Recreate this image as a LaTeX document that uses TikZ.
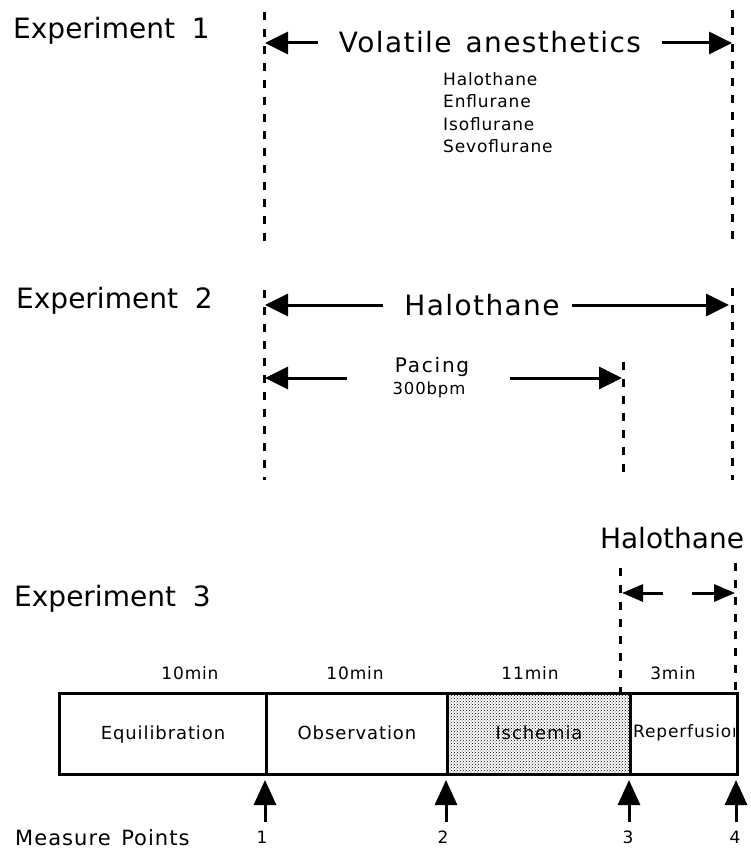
\documentclass[tikz,border=0pt]{standalone}
\usepackage{fontspec}
\setmainfont{DejaVu Sans}
\newfontfamily\lsA[LetterSpace=5]{DejaVu Sans}
\newfontfamily\lsB[LetterSpace=9]{DejaVu Sans}
\usetikzlibrary{arrows.meta,patterns}
\begin{document}
\begin{tikzpicture}[x=1pt,y=-1pt,
  dashv/.style={line width=3pt, dash pattern=on 8pt off 9pt},
  bigarr/.style={line width=3pt, -{Triangle[length=23pt,width=22pt]}},
  smallarr/.style={line width=3pt, -{Triangle[length=21pt,width=17pt]}},
  uparr/.style={line width=3pt, -{Triangle[length=25pt,width=22pt]}},
  lbl/.style={inner sep=0pt},
  big/.style={lbl, font=\fontsize{28}{32}\selectfont},
  sml/.style={lbl, font=\lsA\fontsize{17}{20}\selectfont},
  seg/.style={draw, line width=3pt, rectangle, inner sep=0pt, minimum height=81pt, font=\lsA\fontsize{18}{21}\selectfont, text height=13pt, text depth=3pt},
]
\useasboundingbox (0,0) rectangle (750,850);

% ---------- Experiment 1 ----------
\node[big, anchor=base west] (e1) at (13,39) {Experiment\hspace{0.6em}1};
\coordinate (d1lt) at (264,12);  \coordinate (d1lb) at (264,241);
\coordinate (d1rt) at (732,10);  \coordinate (d1rb) at (732,241);
\draw[dashv] (d1lt) -- (d1lb);
\draw[dashv] (d1rt) -- (d1rb);
\node[big, font=\lsA\fontsize{28}{32}\selectfont, anchor=base] (va) at (490,53) {Volatile\hspace{0.5em}anesthetics};
\coordinate (va1) at (318,43); \coordinate (va1t) at (265,43);
\coordinate (va2) at (662,43); \coordinate (va2t) at (732,43);
\draw[bigarr] (va1) -- (va1t);
\draw[bigarr] (va2) -- (va2t);
\node[sml, anchor=base west] (dr1) at (443,86) {Halothane};
\node[sml, anchor=base west] (dr2) at (443,108) {Enflurane};
\node[sml, anchor=base west] (dr3) at (443,131) {Isoflurane};
\node[sml, anchor=base west] (dr4) at (443,153) {Sevoflurane};

% ---------- Experiment 2 ----------
\node[big, anchor=base west] (e2) at (16,308) {Experiment\hspace{0.6em}2};
\coordinate (d2lt) at (264,290);  \coordinate (d2lb) at (264,480);
\coordinate (d2rt) at (732,288);  \coordinate (d2rb) at (732,480);
\coordinate (d2mt) at (623,362);  \coordinate (d2mb) at (623,480);
\draw[dashv] (d2lt) -- (d2lb);
\draw[dashv] (d2rt) -- (d2rb);
\draw[dashv] (d2mt) -- (d2mb);
\node[big, font=\lsA\fontsize{28}{32}\selectfont, anchor=base] (h2) at (482,315) {Halothane};
\coordinate (h2a) at (383,305); \coordinate (h2at) at (265,305);
\coordinate (h2b) at (572,305); \coordinate (h2bt) at (729,305);
\draw[bigarr] (h2a) -- (h2at);
\draw[bigarr] (h2b) -- (h2bt);
\node[lbl, font=\lsB\fontsize{20}{23}\selectfont, anchor=base] (pc) at (432,372) {Pacing};
\node[lbl, font=\lsA\fontsize{16.5}{19}\selectfont, anchor=base] (bpm) at (429,394) {300bpm};
\coordinate (pa) at (347,378); \coordinate (pat) at (265,378);
\coordinate (pb) at (510,378); \coordinate (pbt) at (622,378);
\draw[bigarr] (pa) -- (pat);
\draw[bigarr] (pb) -- (pbt);

% ---------- Experiment 3 ----------
\node[big, anchor=base west] (e3) at (14,606) {Experiment\hspace{0.6em}3};
\node[big, anchor=base] (h3) at (672,548) {Halothane};
\coordinate (d3lt) at (620,568);  \coordinate (d3lb) at (620,692);
\coordinate (d3rt) at (735,563);  \coordinate (d3rb) at (735,692);
\draw[dashv] (d3lt) -- (d3lb);
\draw[dashv] (d3rt) -- (d3rb);
\coordinate (sa) at (663,593); \coordinate (sat) at (622,593);
\coordinate (sb) at (692,593); \coordinate (sbt) at (735,593);
\draw[smallarr] (sa) -- (sat);
\draw[smallarr] (sb) -- (sbt);

\node[sml, anchor=base] (t1) at (190,679) {10min};
\node[sml, anchor=base] (t2) at (355,679) {10min};
\node[sml, anchor=base] (t3) at (530,679) {11min};
\node[sml, anchor=base] (t4) at (673,679) {3min};

\node[seg, minimum width=207pt, anchor=north west] (eq) at (58,692) {Equilibration};
\node[seg, minimum width=181pt, anchor=north west] (ob) at (265,692) {Observation};
\node[seg, minimum width=183pt, anchor=north west, fill=white, pattern=crosshatch dots, pattern color=black] (is) at (446,692) {Ischemia};
\node[seg, minimum width=107pt, anchor=north west] (re) at (629,692) {};
\begin{scope}
  \clip (631,694) rectangle (734.5,771);
  \node[lbl, font=\lsA\fontsize{17}{20}\selectfont, anchor=base west] (ret) at (633,737) {Reperfusion};
\end{scope}

\coordinate (m1) at (265,822); \coordinate (m1t) at (265,780);
\coordinate (m2) at (446,822); \coordinate (m2t) at (446,780);
\coordinate (m3) at (629,822); \coordinate (m3t) at (629,780);
\coordinate (m4) at (736,822); \coordinate (m4t) at (736,780);
\draw[uparr] (m1) -- (m1t);
\draw[uparr] (m2) -- (m2t);
\draw[uparr] (m3) -- (m3t);
\draw[uparr] (m4) -- (m4t);

\node[lbl, font=\lsA\fontsize{21}{24}\selectfont, anchor=base west] (mp) at (15,845) {Measure\hspace{0.5em}Points};
\node[sml, anchor=base] (n1) at (262,843) {1};
\node[sml, anchor=base] (n2) at (443,843) {2};
\node[sml, anchor=base] (n3) at (628,843) {3};
\node[sml, anchor=base] (n4) at (735,843) {4};
\end{tikzpicture}
\end{document}
